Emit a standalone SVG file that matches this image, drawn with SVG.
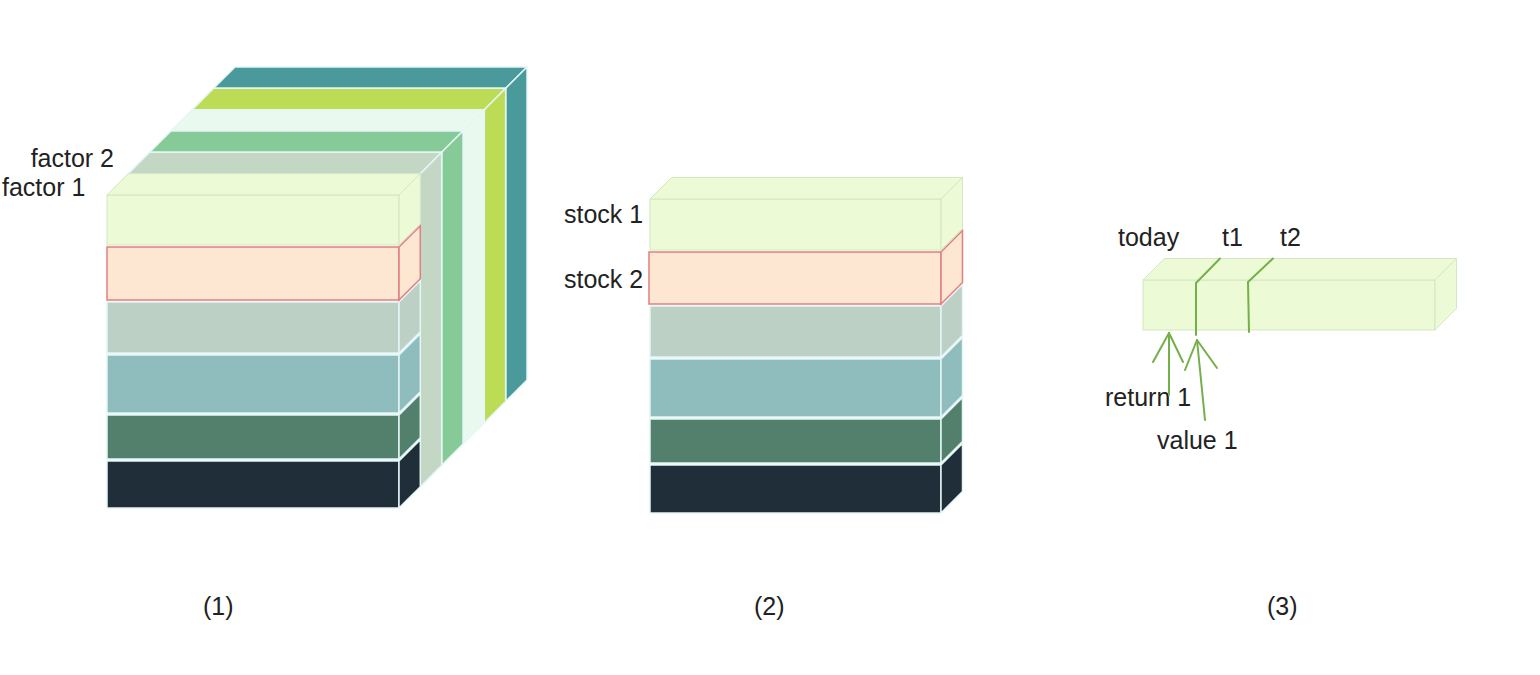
<svg xmlns="http://www.w3.org/2000/svg" width="1540" height="675" viewBox="0 0 1540 675">
<style>
text{font-family:"Liberation Sans",Arial,sans-serif;font-size:25px;fill:#222}
.sep{stroke:#e4f6f6;stroke-width:1.5}
.lg{fill:#edfad6;stroke:#d2e7c2;stroke-width:1}
.pe{fill:#fde7d2;stroke:#e07f80;stroke-width:1.5}
.gg{fill:#bdd0c5}
.tl{fill:#8fbcbc}
.dg{fill:#52806d}
.nv{fill:#1f2e38}
.s1{fill:#c3d7c4}
.s2{fill:#86cb97}
.s3{fill:#e9f9ef}
.s4{fill:#bddc56}
.s5{fill:#4b9a9b}
.gl{fill:none;stroke:#74b04a;stroke-width:2;stroke-linecap:round;stroke-linejoin:round}
</style>
<rect width="1540" height="675" fill="#fff"/>

<g id="cube1">
  <g class="sep">
    <polygon class="s5" points="213.7,88.3 505.7,88.3 527,67 235,67"/>
    <polygon class="s5" points="505.7,88.3 527,67 527,380 505.7,401.3"/>
    <polygon class="s4" points="192.3,109.7 484.3,109.7 505.7,88.3 213.7,88.3"/>
    <polygon class="s4" points="484.3,109.7 505.7,88.3 505.7,401.3 484.3,422.7"/>
    <polygon class="s3" points="171,131 463,131 484.3,109.7 192.3,109.7"/>
    <polygon class="s3" points="463,131 484.3,109.7 484.3,422.7 463,444"/>
    <polygon class="s2" points="149.7,152.3 441.7,152.3 463,131 171,131"/>
    <polygon class="s2" points="441.7,152.3 463,131 463,444 441.7,465.3"/>
    <polygon class="s1" points="128.3,173.7 420.3,173.7 441.7,152.3 149.7,152.3"/>
    <polygon class="s1" points="420.3,173.7 441.7,152.3 441.7,465.3 420.3,486.7"/>
    <rect class="nv" x="107" y="461" width="292" height="47"/>
    <polygon class="nv" points="399,461 420.3,439.7 420.3,486.7 399,508"/>
    <rect class="dg" x="107" y="415" width="292" height="44"/>
    <polygon class="dg" points="399,415 420.3,393.7 420.3,437.7 399,459"/>
    <rect class="tl" x="107" y="355" width="292" height="58"/>
    <polygon class="tl" points="399,355 420.3,333.7 420.3,391.7 399,413"/>
    <rect class="gg" x="107" y="302" width="292" height="51"/>
    <polygon class="gg" points="399,302 420.3,280.7 420.3,331.7 399,353"/>
  </g>
  <rect class="pe" x="107" y="247" width="292" height="53"/>
  <polygon class="pe" points="399,247 420.3,225.7 420.3,278.7 399,300"/>
  <rect class="lg" x="107" y="195" width="292" height="50"/>
  <polygon class="lg" points="107,195 399,195 420.3,173.7 128.3,173.7"/>
  <polygon class="lg" points="399,195 420.3,173.7 420.3,223.7 399,245"/>
  <text x="114" y="167" text-anchor="end">factor 2</text>
  <text x="2" y="196">factor 1</text>
  <text x="203" y="615">(1)</text>
</g>

<g id="stack2">
  <g class="sep">
    <rect class="nv" x="650" y="465" width="291" height="48"/>
    <polygon class="nv" points="941,465 962.5,443.5 962.5,491.5 941,513"/>
    <rect class="dg" x="650" y="419" width="291" height="44"/>
    <polygon class="dg" points="941,419 962.5,397.5 962.5,441.5 941,463"/>
    <rect class="tl" x="650" y="359" width="291" height="58"/>
    <polygon class="tl" points="941,359 962.5,337.5 962.5,395.5 941,417"/>
    <rect class="gg" x="650" y="306" width="291" height="51"/>
    <polygon class="gg" points="941,306 962.5,284.5 962.5,335.5 941,357"/>
  </g>
  <rect class="pe" x="649" y="252" width="292" height="52"/>
  <polygon class="pe" points="941,252 962.5,230.5 962.5,282.5 941,304"/>
  <rect class="lg" x="650" y="199" width="291" height="51"/>
  <polygon class="lg" points="650,199 941,199 962.5,177.5 671.5,177.5"/>
  <polygon class="lg" points="941,199 962.5,177.5 962.5,228.5 941,250"/>
  <text x="564" y="223">stock 1</text>
  <text x="564" y="288">stock 2</text>
  <text x="754" y="615">(2)</text>
</g>

<g id="bar3">
  <rect class="lg" x="1143" y="280" width="292" height="50"/>
  <polygon class="lg" points="1143,280 1435,280 1456.5,258.5 1164.5,258.5"/>
  <polygon class="lg" points="1435,280 1456.5,258.5 1456.5,308.5 1435,330"/>
  <polyline class="gl" points="1220,258.5 1196,283 1196,335"/>
  <polyline class="gl" points="1273,258.5 1248,282 1249,332"/>
  <text x="1118" y="246">today</text>
  <text x="1222" y="246">t1</text>
  <text x="1280" y="246">t2</text>
  <text x="1105" y="406">return 1</text>
  <text x="1157" y="449">value 1</text>
  <text x="1267" y="615">(3)</text>
</g>

<g id="connectors">
  <line class="gl" x1="1169" y1="395" x2="1169" y2="333"/>
  <polyline class="gl" points="1153,362 1169,333 1183,362"/>
  <line class="gl" x1="1205" y1="420" x2="1197" y2="340"/>
  <polyline class="gl" points="1185,370 1197,340 1217,368"/>
</g>
</svg>
